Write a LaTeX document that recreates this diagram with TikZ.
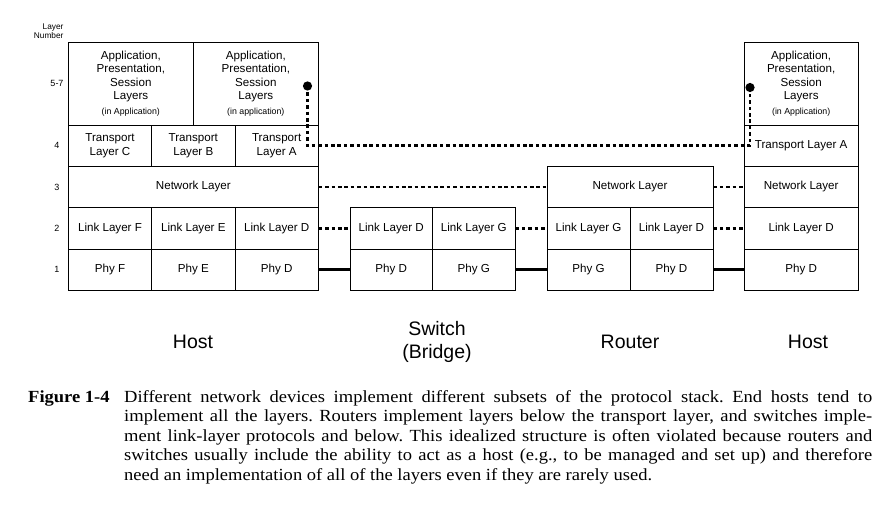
\documentclass[tikz,border=0pt]{standalone}
\usepackage{fontspec}
\setmainfont{Liberation Serif}[FakeStretch=1.09]
\newfontfamily\arial{Liberation Sans}
\newcommand{\sml}{\fontsize{8.8}{13.4}\selectfont}
\frenchspacing
\begin{document}
\begin{tikzpicture}[x=1pt,y=-1pt,
        box/.style={draw,line width=0.8pt,inner sep=0pt,align=center,
            minimum height=41.33pt,font=\arial\fontsize{11.6}{13.4}\selectfont},
        appbox/.style={box,minimum height=83pt},
        dotline/.style={line width=2.4pt,dash pattern=on 3.6pt off 2.8pt},
        phyline/.style={line width=2.8pt},
        lnum/.style={font=\arial\fontsize{9}{9}\selectfont},
        dev/.style={font=\arial\fontsize{19.5}{23}\selectfont,align=center}]
    \useasboundingbox (0,0) rectangle (896,518);
    \def\ya{83.5} \def\yt{145.67} \def\yn{187} \def\yl{228.33} \def\yp{269.67}
    %===========================================
    % host (left)
    \node[appbox,minimum width=125pt] (hLApp1) at (130.83,\ya) {Application,\\Presentation,\\Session\\Layers\\[1.5pt]{\sml(in Application)}};
    \node[appbox,minimum width=125pt] (hLApp2) at (255.83,\ya) {Application,\\Presentation,\\Session\\Layers\\[1.5pt]{\sml(in application)}};
    \node[box,minimum width=83.33pt] (hLTrC) at (110,\yt) {Transport\\Layer C};
    \node[box,minimum width=83.33pt] (hLTrB) at (193.33,\yt) {Transport\\Layer B};
    \node[box,minimum width=83.33pt] (hLTrA) at (276.67,\yt) {Transport\\Layer A};
    \node[box,minimum width=250pt] (hLNet) at (193.33,\yn) {Network Layer};
    \node[box,minimum width=83.33pt] (hLLnkF) at (110,\yl) {Link Layer F};
    \node[box,minimum width=83.33pt] (hLLnkE) at (193.33,\yl) {Link Layer E};
    \node[box,minimum width=83.33pt] (hLLnkD) at (276.67,\yl) {Link Layer D};
    \node[box,minimum width=83.33pt] (hLPhyF) at (110,\yp) {Phy F};
    \node[box,minimum width=83.33pt] (hLPhyE) at (193.33,\yp) {Phy E};
    \node[box,minimum width=83.33pt] (hLPhyD) at (276.67,\yp) {Phy D};
    % switch
    \node[box,minimum width=82.5pt] (sLnkD) at (391.25,\yl) {Link Layer D};
    \node[box,minimum width=82.5pt] (sLnkG) at (473.75,\yl) {Link Layer G};
    \node[box,minimum width=82.5pt] (sPhyD) at (391.25,\yp) {Phy D};
    \node[box,minimum width=82.5pt] (sPhyG) at (473.75,\yp) {Phy G};
    % router
    \node[box,minimum width=166pt] (rNet) at (630,\yn) {Network Layer};
    \node[box,minimum width=83pt] (rLnkG) at (588.5,\yl) {Link Layer G};
    \node[box,minimum width=83pt] (rLnkD) at (671.5,\yl) {Link Layer D};
    \node[box,minimum width=83pt] (rPhyG) at (588.5,\yp) {Phy G};
    \node[box,minimum width=83pt] (rPhyD) at (671.5,\yp) {Phy D};
    % host (right)
    \node[appbox,minimum width=114.33pt] (hRApp) at (801.17,\ya) {Application,\\Presentation,\\Session\\Layers\\[1.5pt]{\sml(in Application)}};
    \node[box,minimum width=114.33pt] (hRTr) at (801.17,\yt) {Transport Layer A};
    \node[box,minimum width=114.33pt] (hRNet) at (801.17,\yn) {Network Layer};
    \node[box,minimum width=114.33pt] (hRLnk) at (801.17,\yl) {Link Layer D};
    \node[box,minimum width=114.33pt] (hRPhy) at (801.17,\yp) {Phy D};
    %===========================================
    % peer connections
    \coordinate (dotL) at (307.5,86);
    \coordinate (dotR) at (750,87.5);
    \draw[dotline] (dotL) -- (dotL |- hLTrA.center) -- (dotR |- hLTrA.center) -- (dotR);
    \fill (dotL) circle (4.6pt) (dotR) circle (4.6pt);
    \draw[dotline] (hLNet.east) -- (rNet.west);
    \draw[dotline] (rNet.east) -- (hRNet.west);
    \draw[dotline] (hLLnkD.east) -- (sLnkD.west);
    \draw[dotline] (sLnkG.east) -- (rLnkG.west);
    \draw[dotline] (rLnkD.east) -- (hRLnk.west);
    \draw[phyline] (hLPhyD.east) -- (sPhyD.west);
    \draw[phyline] (sPhyG.east) -- (rPhyG.west);
    \draw[phyline] (rPhyD.east) -- (hRPhy.west);
    %===========================================
    % layer numbers
    \node[lnum,align=right,anchor=east,font=\arial\fontsize{8.3}{8.6}\selectfont] (lnHead) at (67,31) {Layer\\Number};
    \node[lnum] (ln57) at (57,\ya) {5-7};
    \node[lnum] (ln4) at (57,\yt) {4};
    \node[lnum] (ln3) at (57,\yn) {3};
    \node[lnum] (ln2) at (57,\yl) {2};
    \node[lnum] (ln1) at (57,\yp) {1};
    % device names
    \node[dev] (devHL) at (193,342) {Host};
    \node[dev] (devS) at (437,341.5) {Switch\\(Bridge)};
    \node[dev] (devR) at (630,342) {Router};
    \node[dev] (devHR) at (808,342) {Host};
    %===========================================
    % caption
    \def\capw{748pt}
    \node[anchor=base west,inner sep=0pt,font=\bfseries\fontsize{17}{19.5}\selectfont] (fig) at (28,402) {Figure 1-4};
    \node[anchor=north west,inner sep=0pt,align=left,font=\fontsize{17}{19.5}\selectfont] (cap) at (124,390) {%
        \makebox[\capw][s]{Different network devices implement different subsets of the protocol stack. End hosts tend to}\\
        \makebox[\capw][s]{implement all the layers. Routers implement layers below the transport layer, and switches imple-}\\
        \makebox[\capw][s]{ment link-layer protocols and below. This idealized structure is often violated because routers and}\\
        \makebox[\capw][s]{switches usually include the ability to act as a host (e.g., to be managed and set up) and therefore}\\
        need an implementation of all of the layers even if they are rarely used.};
\end{tikzpicture}
\end{document}
